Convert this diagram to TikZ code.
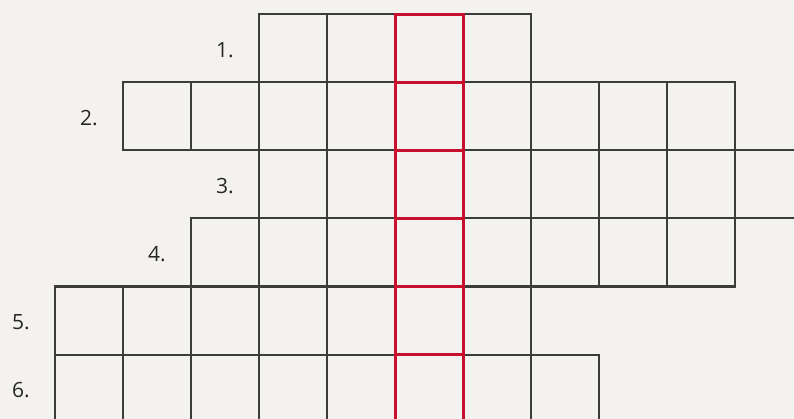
\documentclass[tikz,border=0pt]{standalone}
\usepackage{fontspec}
\setmainfont{Open Sans}
\definecolor{bg}{HTML}{F3F2EE}
\definecolor{grid}{HTML}{3C3C3C}
\definecolor{hl}{HTML}{C8102E}
\begin{document}
\begin{tikzpicture}[x=1pt,y=-1pt,
  cellbox/.style={draw=grid,line width=2pt},
  redbox/.style={draw=hl,line width=3pt},
  numlabel/.style={anchor=east,font=\fontsize{21}{24}\selectfont,text=black!85,inner sep=0pt}]
\fill[bg] (0,0) rectangle (794,419);
\useasboundingbox (0,0) rectangle (794,419);
\clip (0,0) rectangle (794,419);
% rows: {row index}/{first col}/{last col}/{label}
\foreach \r/\a/\b/\t in {0/3/6/1.,1/1/9/2.,2/3/10/3.,3/2/9/4.,4/0/6/5.,5/0/7/6.}{
  \foreach \c in {\a,...,\b}{
    \ifnum\c=5\else
      \draw[cellbox] ({55+68*\c},{14.5+68*\r}) rectangle ++(68,68);
    \fi
  }
  \node[numlabel] (lab\r) at ({55+68*\a-25},{14.5+68*\r+36}) {\t};
}
\foreach \r in {0,...,5}{
  \draw[redbox] (395,{14.5+68*\r}) rectangle ++(68,68);
}
\end{tikzpicture}
\end{document}
